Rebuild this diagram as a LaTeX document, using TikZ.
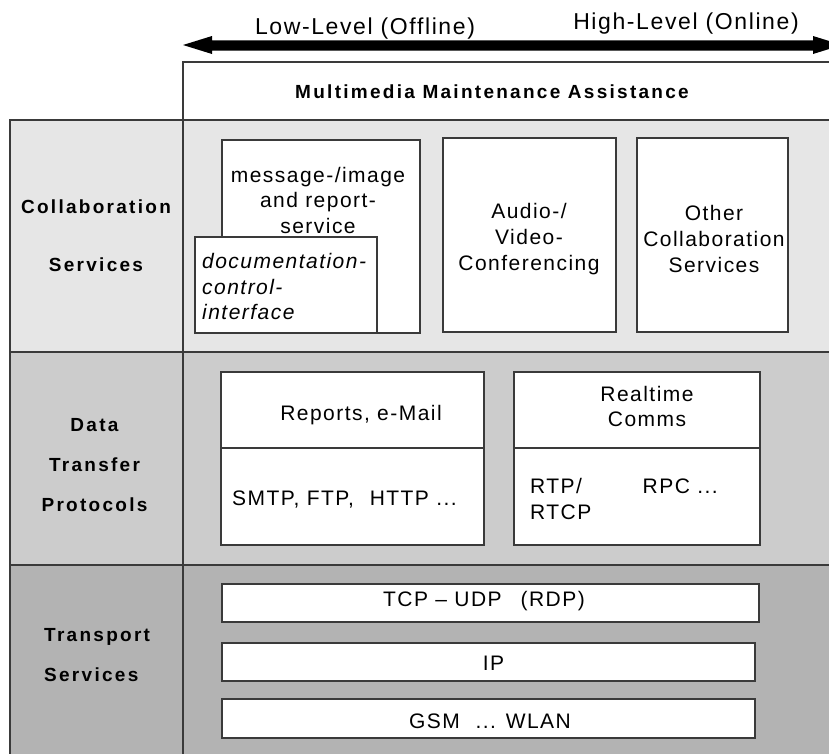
\documentclass[tikz,border=0pt]{standalone}
\usepackage{fontspec}
\setmainfont{Liberation Sans}
\newfontfamily\regfont{Liberation Sans}[LetterSpace=7]
\newfontfamily\wideboldfont{Liberation Sans}[LetterSpace=12]
\definecolor{bandA}{HTML}{E6E6E6}
\definecolor{bandB}{HTML}{CCCCCC}
\definecolor{bandC}{HTML}{B3B3B3}
\definecolor{linegray}{HTML}{3A3A3A}
\begin{document}
\begin{tikzpicture}[x=1pt,y=-1pt,
  frame/.style={draw=linegray,line width=1.3pt},
  box/.style={frame,fill=white,inner sep=0pt,outer sep=0pt},
  txt/.style={inner sep=0pt,text=black,font=\regfont\fontsize{21}{25.5}\selectfont},
  txtb/.style={inner sep=0pt,text=black,font=\wideboldfont\bfseries\fontsize{19}{23}\selectfont}]
\useasboundingbox (0,0) rectangle (829,753);
\clip (0,0) rectangle (829,753);
% bands
\fill[bandA] (10,120) rectangle (845,352);
\fill[bandB] (10,352) rectangle (845,565);
\fill[bandC] (10,565) rectangle (845,760);
\draw[frame] (183,760) -- (183,62) -- (845,62);
\draw[frame] (10,760) -- (10,120) -- (845,120);
\draw[frame] (10,352) -- (845,352);
\draw[frame] (10,565) -- (845,565);
% double arrow
\fill[black] (183,45) -- (212,36) -- (212,40.3) -- (813,40.3) -- (813,36) -- (842,45)
  -- (813,54) -- (813,50.5) -- (212,50.5) -- (212,54) -- cycle;
\node[txt,anchor=base,font=\regfont\fontsize{23}{27}\selectfont] (lowlbl) at (365,34) {Low-Level (Offline)};
\node[txt,anchor=base,font=\regfont\fontsize{23}{27}\selectfont] (highlbl) at (686,29.5) {High-Level (Online)};
% title
\node[txtb,anchor=base] (title) at (492,98) {Multimedia Maintenance Assistance};
% left labels
\node[txtb,align=center,font=\wideboldfont\bfseries\fontsize{19}{58}\selectfont] (collab) at (96,235.5) {Collaboration\\Services};
\node[txtb,align=center,font=\wideboldfont\bfseries\fontsize{19}{40}\selectfont] (dtp) at (94.5,465.5) {Data\\Transfer\\Protocols};
\node[txtb,align=left,anchor=west,font=\wideboldfont\bfseries\fontsize{19}{40}\selectfont] (trs) at (44,655.5) {Transport\\Services};
% collaboration boxes
\node[box,minimum width=198pt,minimum height=193pt] (msg) at (321,236.5) {};
\node[box,minimum width=182pt,minimum height=96pt] (doc) at (286,285) {};
\node[box,minimum width=173pt,minimum height=194pt] (audio) at (529.5,235) {};
\node[box,minimum width=151pt,minimum height=194pt] (other) at (712.5,235) {};
\node[txt,align=center] (msgt) at (318,200) {message-/image\\and report-\\service};
\node[txt,align=left,anchor=west,font=\regfont\itshape\fontsize{21}{25.5}\selectfont] (doct) at (202,286.5) {documentation-\\control-\\interface};
\node[txt,align=center,font=\regfont\fontsize{21}{26}\selectfont] (audiot) at (529,239) {Audio-/\\Video-\\Conferencing};
\node[txt,align=center,font=\regfont\fontsize{21}{26}\selectfont] (othert) at (714,238.5) {Other\\Collaboration\\Services};
% data transfer boxes
\node[box,minimum width=263pt,minimum height=76pt] (reptop) at (352.5,410) {};
\node[box,minimum width=263pt,minimum height=97pt] (repbot) at (352.5,496.5) {};
\node[box,minimum width=246pt,minimum height=76pt] (rttop) at (637,410) {};
\node[box,minimum width=246pt,minimum height=97pt] (rtbot) at (637,496.5) {};
\node[txt,anchor=base] (rept) at (361,420) {Reports, e-Mail};
\node[txt,anchor=base west] (smtpt) at (232,505) {SMTP, FTP,\hspace{0.4em} HTTP ...};
\node[txt,align=center] (rtt) at (647,406.5) {Realtime\\Comms};
\node[txt,align=left,anchor=west,font=\regfont\fontsize{21}{26}\selectfont] (rtpt) at (530,498.5) {RTP/\\RTCP};
\node[txt,anchor=base west] (rpct) at (642.5,493) {RPC ...};
% transport boxes
\node[box,minimum width=537pt,minimum height=38pt] (tcp) at (490.5,603) {};
\node[box,minimum width=533pt,minimum height=38pt] (ip) at (488.5,662) {};
\node[box,minimum width=533pt,minimum height=39pt] (gsm) at (488.5,718.5) {};
\node[txt,anchor=base] (tcpt) at (484,606) {TCP – UDP\hspace{0.9em}(RDP)};
\node[txt,anchor=base] (ipt) at (493.5,670) {IP};
\node[txt,anchor=base] (gsmt) at (490,728) {GSM\hspace{0.4em} ... WLAN};
\end{tikzpicture}
\end{document}
